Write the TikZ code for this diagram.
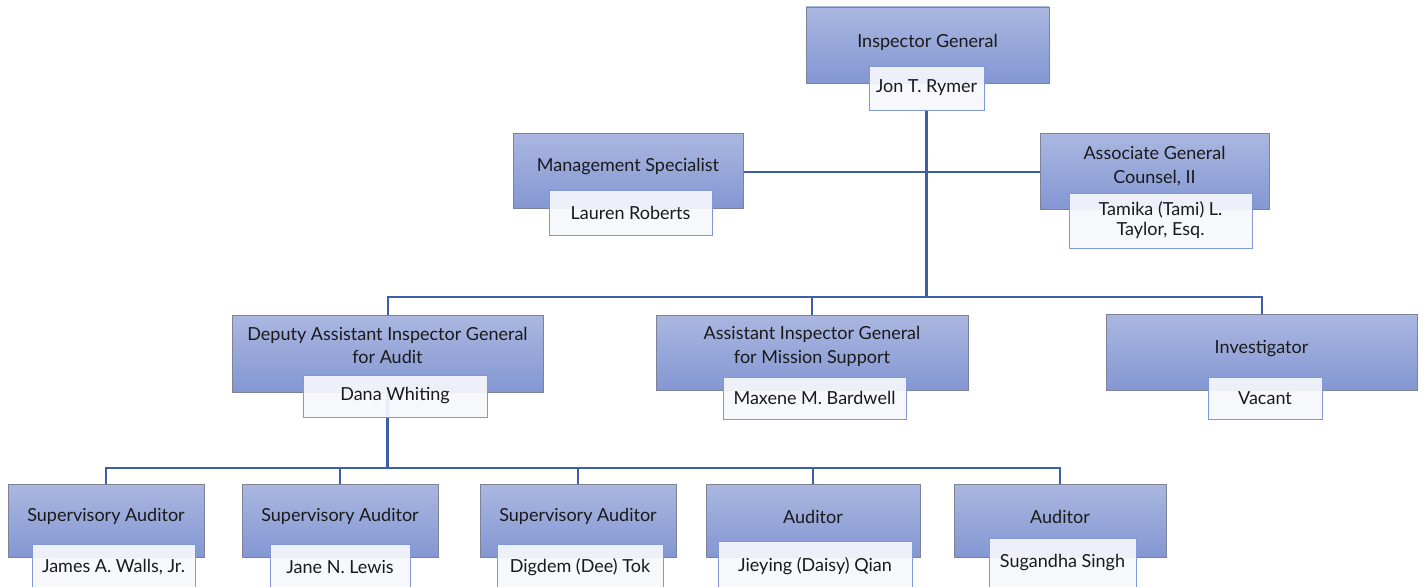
\documentclass[tikz,border=0pt]{standalone}
\usepackage{fontspec}
\setmainfont{Lato}
\usetikzlibrary{backgrounds}
\definecolor{boxtop}{HTML}{AAB7E0}
\definecolor{boxbot}{HTML}{8497D3}
\definecolor{boxedge}{HTML}{7D8296}
\definecolor{namefill}{HTML}{F6F7FC}
\definecolor{nameedge}{HTML}{7E99D6}
\definecolor{linkcol}{HTML}{3D5FA9}
\definecolor{txt}{HTML}{1A1A1A}
\tikzset{
  rolebox/.style={draw=boxedge, line width=0.9pt, top color=boxtop, bottom color=boxbot, inner sep=0pt},
  namebox/.style={draw=nameedge, line width=0.9pt, fill=namefill, fill opacity=0.93, text opacity=1, inner sep=0pt, align=center, font=\fontsize{18}{20}\selectfont, text=txt},
  roletext/.style={align=center, inner sep=0pt, font=\fontsize{18}{23.5}\selectfont, text=txt},
  link/.style={draw=linkcol, line width=2pt},
}
\begin{document}
\begin{tikzpicture}[x=1pt,y=-1pt]
\useasboundingbox (0,0) rectangle (1426,586);
% level 0
\node[rolebox, minimum width=243, minimum height=76] (ig) at (927.5,45) {};
\path (ig.center) ++(0,-3) node[roletext] (igt) {Inspector General};
\node[namebox, minimum width=115, minimum height=44] (ign) at (926.5,88) {Jon T. Rymer};
% staff
\node[rolebox, minimum width=230, minimum height=75] (ms) at (628,170.5) {};
\path (ms.center) ++(0,-4) node[roletext] (mst) {Management Specialist};
\node[namebox, minimum width=163, minimum height=45] (msn) at (630.5,212.5) {Lauren Roberts};
\node[rolebox, minimum width=229, minimum height=76] (agc) at (1154.5,171) {};
\path (agc.center) ++(0,-5) node[roletext] (agct) {Associate General\\Counsel, II};
\node[namebox, minimum width=183, minimum height=55] (agcn) at (1160.5,220.5) {Tamika (Tami) L.\\Taylor, Esq.};
% level 1
\node[rolebox, minimum width=311, minimum height=77] (daig) at (387.5,353.5) {};
\path (daig.center) ++(0,-8) node[roletext] (daigt) {Deputy Assistant Inspector General\\for Audit};
\node[namebox, minimum width=184, minimum height=42] (daign) at (395,396) {Dana Whiting};
\node[rolebox, minimum width=312, minimum height=75] (aig) at (812,352.5) {};
\path (aig.center) ++(0,-6) node[roletext] (aigt) {Assistant Inspector General\\for Mission Support};
\node[namebox, minimum width=183, minimum height=42] (aign) at (814.5,398) {Maxene M. Bardwell};
\node[rolebox, minimum width=311, minimum height=76] (inv) at (1261.5,352) {};
\path (inv.center) ++(0,-3) node[roletext] (invt) {Investigator};
\node[namebox, minimum width=114, minimum height=42] (invn) at (1265,398) {Vacant};
% level 2
\node[rolebox, minimum width=196, minimum height=73] (sa1) at (106,520.5) {};
\path (sa1.center) ++(0,-4) node[roletext] (sa1t) {Supervisory Auditor};
\node[namebox, minimum width=163, minimum height=46] (sa1n) at (113.5,567) {James A. Walls, Jr.};
\node[rolebox, minimum width=196, minimum height=73] (sa2) at (340,520.5) {};
\path (sa2.center) ++(0,-4) node[roletext] (sa2t) {Supervisory Auditor};
\node[namebox, minimum width=140, minimum height=46] (sa2n) at (340,567) {Jane N. Lewis};
\node[rolebox, minimum width=196, minimum height=73] (sa3) at (578,520.5) {};
\path (sa3.center) ++(0,-4) node[roletext] (sa3t) {Supervisory Auditor};
\node[namebox, minimum width=166, minimum height=46] (sa3n) at (580,567) {Digdem (Dee) Tok};
\node[rolebox, minimum width=214, minimum height=73] (a1) at (813,520.5) {};
\path (a1.center) ++(0,-4) node[roletext] (a1t) {Auditor};
\node[namebox, minimum width=194, minimum height=50] (a1n) at (815,566) {Jieying (Daisy) Qian};
\node[rolebox, minimum width=212, minimum height=73] (a2) at (1060,520.5) {};
\path (a2.center) ++(0,-4) node[roletext] (a2t) {Auditor};
\node[namebox, minimum width=147, minimum height=50] (a2n) at (1062.5,563) {Sugandha Singh};
% connectors
\begin{scope}[on background layer]
\coordinate (busA) at (0,297);
\coordinate (busB) at (0,468);
\draw[link, line width=2.6pt] (ign.south) -- (ign.south |- busA);
\draw[link] (ms.east |- 0,172) -- (agc.west |- 0,172);
\draw[link] (daig.north) -- (daig.north |- busA) -- (inv.north |- busA) -- (inv.north);
\draw[link] (aig.north) -- (aig.north |- busA);
\draw[link, line width=2.6pt] (daig.center) -- (daig.center |- busB);
\draw[link] (sa1.north) -- (sa1.north |- busB) -- (a2.north |- busB) -- (a2.north);
\draw[link] (sa2.north) -- (sa2.north |- busB);
\draw[link] (sa3.north) -- (sa3.north |- busB);
\draw[link] (a1.north) -- (a1.north |- busB);
\end{scope}
\end{tikzpicture}
\end{document}
